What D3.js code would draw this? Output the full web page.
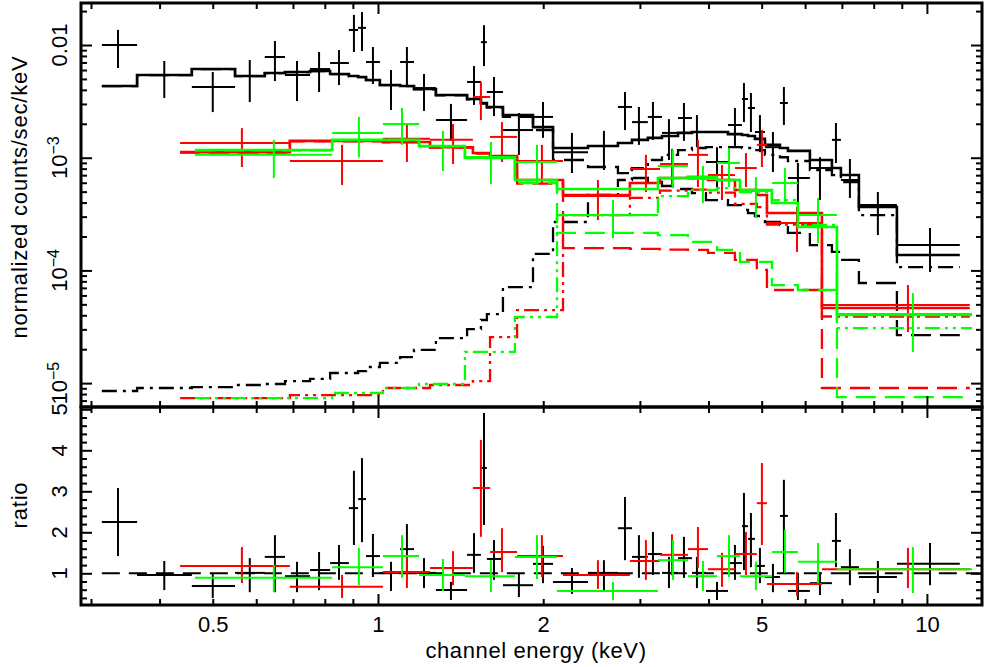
<!DOCTYPE html>
<meta charset="utf-8">
<head>
    <title>Spectrum and ratio</title>
    <style>
        body { margin: 0; background: #ffffff; }
        svg text { font-family: "Liberation Sans", Arial, sans-serif; fill: #000; }
        .tick line { stroke: #000; stroke-width: 2px; }
    </style>
</head>
<body>
<svg id="chart" width="985" height="667"></svg>
<script src="https://d3js.org/d3.v7.min.js"></script>
<script>
    // ---- data (keV, counts/sec/keV, ratio) ----
    // black set
    var blackEdges = [0.314, 0.364, 0.458, 0.549, 0.622, 0.677, 0.752, 0.818, 0.885, 0.920, 0.951, 1.008, 1.097, 1.163,
        1.275, 1.453, 1.540, 1.579, 1.689, 1.916, 2.084, 2.413, 2.736, 2.902, 3.102, 3.291, 3.520, 3.732, 3.958, 4.341,
        4.603, 4.721, 4.861, 5.069, 5.398, 5.582, 6.121, 6.714, 6.972, 7.518, 8.818, 11.48];
    var blackCenter = [0.336, 0.408, 0.500, 0.584, 0.649, 0.712, 0.781, 0.849, 0.904, 0.935, 0.979, 1.056, 1.129, 1.213,
        1.358, 1.496, 1.560, 1.627, 1.806, 1.998, 2.256, 2.580, 2.818, 2.988, 3.169, 3.389, 3.609, 3.811, 4.146, 4.470,
        4.642, 4.780, 4.964, 5.242, 5.489, 5.821, 6.385, 6.828, 7.240, 8.141, 10.13];
    var blackRate = [1.00e-2, 5.42e-3, 4.24e-3, 5.31e-3, 7.83e-3, 5.42e-3, 6.12e-3, 6.92e-3, 1.36e-2, 1.42e-2, 7.07e-3,
        4.42e-3, 7.07e-3, 4.15e-3, 2.16e-3, 4.70e-3, 1.06e-2, 3.83e-3, 1.76e-3, 2.30e-3, 1.12e-3, 1.27e-3, 2.82e-3,
        2.07e-3, 2.30e-3, 1.66e-3, 2.25e-3, 1.69e-3, 9.16e-4, 1.95e-3, 3.32e-3, 2.76e-3, 1.69e-3, 1.24e-3, 3.06e-3,
        6.61e-4, 8.10e-4, 1.44e-3, 6.34e-4, 3.80e-4, 1.68e-4];
    var blackRateHi = [1.36e-2, 7.21e-3, 5.76e-3, 7.36e-3, 1.085e-2, 7.21e-3, 8.67e-3, 9.03e-3, 1.85e-2, 1.96e-2, 9.60e-3,
        6.00e-3, 9.60e-3, 5.53e-3, 3.00e-3, 6.51e-3, 1.50e-2, 5.20e-3, 2.49e-3, 3.12e-3, 1.66e-3, 1.73e-3, 3.83e-3,
        2.82e-3, 3.12e-3, 2.20e-3, 3.06e-3, 2.39e-3, 1.24e-3, 2.76e-3, 4.60e-3, 3.75e-3, 2.39e-3, 1.69e-3, 4.24e-3,
        8.97e-4, 1.01e-3, 2.03e-3, 9.74e-4, 4.96e-4, 2.38e-4];
    var blackRateLo = [6.25e-3, 3.39e-3, 2.54e-3, 3.12e-3, 4.79e-3, 3.18e-3, 3.83e-3, 4.42e-3, 8.67e-3, 8.85e-3, 4.51e-3,
        2.65e-3, 4.42e-3, 2.60e-3, 1.41e-3, 2.94e-3, 6.51e-3, 2.34e-3, 1.06e-3, 1.50e-3, 7.31e-4, 7.78e-4, 1.76e-3,
        1.30e-3, 1.44e-3, 9.54e-4, 1.41e-3, 1.24e-3, 5.50e-4, 1.24e-3, 2.07e-3, 1.69e-3, 1.12e-3, 7.46e-4, 1.95e-3,
        3.96e-4, 4.21e-4, 8.97e-4, 4.39e-4, 2.06e-4, 9.68e-5];
    var blackModel = [4.33e-3, 5.42e-3, 6.12e-3, 5.31e-3, 5.64e-3, 5.76e-3, 5.88e-3, 5.53e-3, 5.31e-3, 5.20e-3, 4.89e-3,
        4.42e-3, 4.33e-3, 4.07e-3, 3.60e-3, 3.32e-3, 3.06e-3, 2.82e-3, 2.39e-3, 1.87e-3, 1.22e-3, 1.27e-3, 1.35e-3,
        1.44e-3, 1.50e-3, 1.56e-3, 1.66e-3, 1.69e-3, 1.69e-3, 1.62e-3, 1.59e-3, 1.56e-3, 1.47e-3, 1.30e-3, 1.22e-3,
        1.15e-3, 9.54e-4, 8.10e-4, 7.02e-4, 3.65e-4, 1.37e-4];
    var blackSoft = [4.32e-3, 5.41e-3, 6.11e-3, 5.30e-3, 5.63e-3, 5.75e-3, 5.87e-3, 5.52e-3, 5.30e-3, 5.19e-3, 4.88e-3,
        4.40e-3, 4.31e-3, 4.05e-3, 3.57e-3, 3.29e-3, 3.02e-3, 2.78e-3, 2.30e-3, 1.76e-3, 9.54e-4, 8.27e-4, 7.31e-4,
        6.61e-4, 6.09e-4, 5.61e-4, 5.28e-4, 4.86e-4, 4.21e-4, 3.80e-4, 3.44e-4, 3.23e-4, 3.04e-4, 2.69e-4, 2.53e-4,
        2.15e-4, 1.68e-4, 1.46e-4, 1.24e-4, 7.73e-5, 2.67e-5];
    var blackHard = [8.51e-6, 9.05e-6, 9.23e-6, 9.62e-6, 9.82e-6, 1.04e-5, 1.09e-5, 1.23e-5, 1.23e-5, 1.28e-5, 1.39e-5,
        1.51e-5, 1.70e-5, 1.97e-5, 2.51e-5, 3.02e-5, 3.63e-5, 4.10e-5, 7.12e-5, 1.40e-4, 2.69e-4, 4.67e-4, 6.34e-4,
        8.10e-4, 9.54e-4, 1.06e-3, 1.17e-3, 1.22e-3, 1.24e-3, 1.24e-3, 1.22e-3, 1.22e-3, 1.17e-3, 1.06e-3, 1.01e-3,
        9.35e-4, 7.78e-4, 7.02e-4, 6.09e-4, 3.10e-4, 1.07e-4];
    var blackRatio = [2.25, 0.96, 0.69, 1.01, 1.40, 0.93, 1.08, 1.25, 2.59, 2.81, 1.42, 1.01, 1.59, 1.01, 0.59, 1.45,
        3.57, 1.35, 0.71, 1.23, 0.79, 1.01, 2.10, 1.40, 1.47, 1.01, 1.37, 1.01, 0.57, 1.25, 2.15, 1.84, 1.18, 0.91,
        2.40, 0.57, 0.76, 1.79, 1.15, 0.91, 1.23];
    var blackRatioHi = [3.08, 1.30, 1.01, 1.37, 1.93, 1.28, 1.52, 1.69, 3.50, 3.81, 1.96, 1.28, 2.20, 1.37, 0.79, 1.98,
        4.91, 1.81, 1.01, 1.67, 1.13, 1.32, 2.86, 1.93, 2.01, 1.40, 1.89, 1.40, 0.79, 1.69, 2.96, 2.47, 1.62, 1.23,
        3.28, 1.01, 1.03, 2.47, 1.59, 1.30, 1.74];
    var blackRatioLo = [1.42, 0.59, 0.40, 0.54, 0.54, 0.54, 0.59, 0.84, 1.69, 1.76, 0.91, 0.57, 0.96, 0.64, 0.35, 1.01,
        2.18, 0.84, 0.42, 0.76, 0.50, 0.59, 1.32, 0.89, 0.96, 0.64, 0.89, 0.64, 0.35, 0.84, 1.08, 1.15, 0.76, 0.54,
        1.01, 0.35, 0.47, 1.15, 0.71, 0.52, 0.71];

    // red set
    var redEdges = [0.436, 0.691, 1.021, 1.244, 1.489, 1.600, 1.792, 2.173, 2.877, 3.264, 3.670, 3.992, 4.470, 4.900,
        5.112, 6.438, 11.97];
    var redCenter = [0.565, 0.860, 1.129, 1.370, 1.540, 1.682, 1.989, 2.516, 3.077, 3.432, 3.827, 4.233, 4.681, 5.005,
        5.799, 9.235];
    var redRate = [1.35e-3, 9.35e-4, 1.47e-3, 1.44e-3, 3.46e-3, 1.53e-3, 9.35e-4, 4.57e-4, 7.94e-4, 8.8e-4, 1.06e-3,
        7.02e-4, 8.10e-4, 1.30e-3, 2.63e-4, 4.93e-5];
    var redRateHi = [1.83e-3, 1.30e-3, 1.95e-3, 1.99e-3, 4.70e-3, 2.07e-3, 1.30e-3, 6.34e-4, 1.06e-3, 1.2e-3, 1.44e-3,
        8.61e-4, 1.10e-3, 1.76e-3, 3.65e-4, 7.42e-5];
    var redRateLo = [8.27e-4, 5.73e-4, 9.16e-4, 8.79e-4, 2.16e-3, 9.16e-4, 5.96e-4, 2.80e-4, 4.96e-4, 5.6e-4, 5.50e-4,
        4.21e-4, 5.50e-4, 8.27e-4, 1.46e-4, 2.84e-5];
    var redModel = [1.12e-3, 1.41e-3, 1.38e-3, 1.24e-3, 1.10e-3, 1.035e-3, 6.34e-4, 4.67e-4, 5.96e-4, 6.61e-4, 6.74e-4,
        6.34e-4, 5.17e-4, 4.67e-4, 3.23e-4, 4.64e-5];
    var redSoft = [1.11e-3, 1.40e-3, 1.37e-3, 1.23e-3, 1.09e-3, 1.01e-3, 5.9e-4, 1.58e-4, 1.55e-4, 1.53e-4, 1.52e-4,
        1.43e-4, 1.24e-4, 1.01e-4, 6.70e-5, 9.05e-6];
    var redHard = [7.37e-6, 7.84e-6, 9.05e-6, 9.62e-6, 1.04e-5, 2.56e-5, 4.45e-5, 3.1e-4, 4.4e-4, 5.1e-4, 5.2e-4,
        4.9e-4, 3.9e-4, 3.65e-4, 2.55e-4, 3.9e-5];
    var redRatio = [1.18, 0.67, 1.03, 1.13, 3.08, 1.52, 1.42, 0.96, 1.30, 1.45, 1.59, 1.10, 1.47, 2.71, 0.74, 1.10];
    var redRatioHi = [1.64, 0.96, 1.45, 1.54, 4.25, 2.10, 1.93, 1.32, 1.81, 1.95, 2.13, 1.50, 2.01, 3.69, 1.03, 1.62];
    var redRatioLo = [0.76, 0.40, 0.64, 0.71, 1.89, 1.03, 0.91, 0.62, 0.84, 0.95, 1.13, 0.67, 0.96, 1.69, 0.45, 0.64];

    // green set
    var greenEdges = [0.464, 0.825, 1.021, 1.188, 1.440, 1.776, 2.119, 3.236, 3.670, 4.146, 4.564, 5.220, 5.821, 6.857,
        12.08];
    var greenCenter = [0.646, 0.923, 1.106, 1.313, 1.606, 1.948, 2.680, 3.446, 3.908, 4.359, 4.880, 5.512, 6.332, 9.430];
    var greenRate = [1.06e-3, 1.66e-3, 1.99e-3, 1.27e-3, 9.94e-4, 9.16e-4, 3.10e-4, 8.44e-4, 6.47e-4, 8.97e-4, 5.07e-4,
        5.96e-4, 3.10e-4, 4.10e-5];
    var greenRateHi = [1.44e-3, 2.30e-3, 2.76e-3, 1.73e-3, 1.38e-3, 1.30e-3, 4.21e-4, 1.17e-3, 8.44e-4, 1.22e-3, 6.74e-4,
        8.10e-4, 4.39e-4, 6.30e-5];
    var greenRateLo = [6.61e-4, 1.01e-3, 1.30e-3, 7.62e-4, 5.84e-4, 5.73e-4, 1.94e-4, 5.38e-4, 3.96e-4, 5.50e-4, 2.92e-4,
        3.96e-4, 1.75e-4, 1.89e-5];
    var greenModel = [1.17e-3, 1.44e-3, 1.44e-3, 1.27e-3, 1.01e-3, 6.34e-4, 5.28e-4, 6.61e-4, 6.74e-4, 6.34e-4, 5.17e-4,
        3.96e-4, 2.43e-4, 4.02e-5];
    var greenSoft = [1.16e-3, 1.43e-3, 1.43e-3, 1.26e-3, 9.9e-4, 5.95e-4, 2.15e-4, 2.06e-4, 1.79e-4, 1.52e-4, 1.19e-4,
        7.42e-5, 6.70e-5, 7.52e-6];
    var greenHard = [7.37e-6, 8.17e-6, 9.05e-6, 9.82e-6, 1.89e-5, 3.86e-5, 3.10e-4, 4.57e-4, 5.17e-4, 5.38e-4, 4.96e-4,
        4.21e-4, 2.53e-4, 3.08e-5];
    var greenRatio = [0.89, 1.15, 1.42, 0.96, 0.93, 1.40, 0.57, 1.32, 0.93, 1.42, 0.93, 1.52, 1.28, 1.10];
    var greenRatioHi = [1.20, 1.62, 1.93, 1.35, 1.32, 1.93, 0.79, 1.81, 1.30, 1.93, 1.28, 2.06, 1.74, 1.64];
    var greenRatioLo = [0.54, 0.71, 0.89, 0.57, 0.54, 0.86, 0.35, 0.84, 0.57, 0.91, 0.59, 1.01, 0.76, 0.52];

    // axis ticks
    var xLabels = [0.5, 1, 2, 5, 10];
    var xMajor = [1, 10];
    var xMinor = [0.3, 0.4, 0.5, 0.6, 0.7, 0.8, 0.9, 2, 3, 4, 5, 6, 7, 8, 9];
    var yLabels = [0.01, 1e-3, 1e-4, 1e-5];
    var yMajor = [1e-5, 1e-4, 1e-3, 1e-2];
    var yMinor = [7e-6, 8e-6, 9e-6, 2e-5, 3e-5, 4e-5, 5e-5, 6e-5, 7e-5, 8e-5, 9e-5, 2e-4, 3e-4, 4e-4, 5e-4, 6e-4, 7e-4,
        8e-4, 9e-4, 2e-3, 3e-3, 4e-3, 5e-3, 6e-3, 7e-3, 8e-3, 9e-3, 2e-2];
    var rLabels = [1, 2, 3, 4, 5];
    var rMinor = [0.4, 0.6, 0.8, 1.2, 1.4, 1.6, 1.8, 2.2, 2.4, 2.6, 2.8, 3.2, 3.4, 3.6, 3.8, 4.2, 4.4, 4.6, 4.8];

    // ---- layout ----
    var pL = 81, pR = 982, pT = 3, pM = 407, pB = 605;
    var svg = d3.select("#chart");

    var x = d3.scaleLog().domain([0.2877, 12.6]).range([pL, pR]);
    var y = d3.scaleLog().domain([6.14e-6, 0.02359]).range([pM, pT]);
    var yr = d3.scaleLinear().domain([0.227, 5.056]).range([pB, pM]);

    var defs = svg.append("defs");
    defs.append("clipPath").attr("id", "clipTop").append("rect")
        .attr("x", pL).attr("y", pT).attr("width", pR - pL).attr("height", pM - pT);
    defs.append("clipPath").attr("id", "clipRat").append("rect")
        .attr("x", pL).attr("y", pM).attr("width", pR - pL).attr("height", pB - pM);

    var sets = [
        {color: "#000000", edges: blackEdges, center: blackCenter, rate: blackRate, hi: blackRateHi, lo: blackRateLo,
            model: blackModel, soft: blackSoft, hard: blackHard, ratio: blackRatio, rhi: blackRatioHi, rlo: blackRatioLo,
            hardDash: "15,6,3,6"},
        {color: "#ff0000", edges: redEdges, center: redCenter, rate: redRate, hi: redRateHi, lo: redRateLo,
            model: redModel, soft: redSoft, hard: redHard, ratio: redRatio, rhi: redRatioHi, rlo: redRatioLo,
            hardDash: "15,5,3,5,3,5"},
        {color: "#00ff00", edges: greenEdges, center: greenCenter, rate: greenRate, hi: greenRateHi, lo: greenRateLo,
            model: greenModel, soft: greenSoft, hard: greenHard, ratio: greenRatio, rhi: greenRatioHi, rlo: greenRatioLo,
            hardDash: "15,5,3,5,3,5"}
    ];

    function steps(edges, vals) {
        var pts = [];
        vals.forEach(function (v, i) {
            pts.push([edges[i], v], [edges[i + 1], v]);
        });
        return pts;
    }
    var stepLine = d3.line().x(function (d) { return x(d[0]); }).y(function (d) { return y(d[1]); });

    var gTop = svg.append("g").attr("clip-path", "url(#clipTop)");
    var gRat = svg.append("g").attr("clip-path", "url(#clipRat)");

    // ratio = 1 reference line
    gRat.append("line")
        .attr("x1", x(blackEdges[0])).attr("x2", x(12.6))
        .attr("y1", yr(1)).attr("y2", yr(1))
        .attr("stroke", "#000").attr("stroke-width", 2).attr("stroke-dasharray", "18,9");

    sets.forEach(function (s) {
        var idx = d3.range(s.rate.length);

        // data crosses, top panel
        var c = gTop.append("g").attr("stroke", s.color).attr("stroke-width", 2);
        c.selectAll(".h").data(idx).enter().append("line")
            .attr("x1", function (i) { return x(s.edges[i]); })
            .attr("x2", function (i) { return x(s.edges[i + 1]); })
            .attr("y1", function (i) { return y(s.rate[i]); })
            .attr("y2", function (i) { return y(s.rate[i]); });
        c.selectAll(".v").data(idx).enter().append("line")
            .attr("x1", function (i) { return x(s.center[i]); })
            .attr("x2", function (i) { return x(s.center[i]); })
            .attr("y1", function (i) { return y(s.hi[i]); })
            .attr("y2", function (i) { return y(s.lo[i]); });

        // model and components
        gTop.append("path").attr("d", stepLine(steps(s.edges, s.model)))
            .attr("fill", "none").attr("stroke", s.color).attr("stroke-width", 2.6);
        gTop.append("path").attr("d", stepLine(steps(s.edges, s.soft)))
            .attr("fill", "none").attr("stroke", s.color).attr("stroke-width", 2.3)
            .attr("stroke-dasharray", "20,9");
        gTop.append("path").attr("d", stepLine(steps(s.edges, s.hard)))
            .attr("fill", "none").attr("stroke", s.color).attr("stroke-width", 2.3)
            .attr("stroke-dasharray", s.hardDash);

        // ratio crosses
        var r = gRat.append("g").attr("stroke", s.color).attr("stroke-width", 2);
        r.selectAll(".h").data(idx).enter().append("line")
            .attr("x1", function (i) { return x(s.edges[i]); })
            .attr("x2", function (i) { return x(s.edges[i + 1]); })
            .attr("y1", function (i) { return yr(s.ratio[i]); })
            .attr("y2", function (i) { return yr(s.ratio[i]); });
        r.selectAll(".v").data(idx).enter().append("line")
            .attr("x1", function (i) { return x(s.center[i]); })
            .attr("x2", function (i) { return x(s.center[i]); })
            .attr("y1", function (i) { return yr(s.rhi[i]); })
            .attr("y2", function (i) { return yr(s.rlo[i]); });
    });

    // ---- axes: inward ticks on every side ----
    function tickAxis(axis, scale, values, size, tx, ty) {
        var g = svg.append("g").attr("transform", "translate(" + tx + "," + ty + ")")
            .call(axis(scale).tickValues(values).tickSize(-size).tickFormat(""));
        g.select(".domain").remove();
    }
    [[d3.axisTop, pT], [d3.axisBottom, pM], [d3.axisTop, pM], [d3.axisBottom, pB]].forEach(function (a) {
        tickAxis(a[0], x, xMinor, 6, 0, a[1]);
        tickAxis(a[0], x, xMajor, 11, 0, a[1]);
    });
    [[d3.axisLeft, pL], [d3.axisRight, pR]].forEach(function (a) {
        tickAxis(a[0], y, yMinor, 6, a[1], 0);
        tickAxis(a[0], y, yMajor, 11, a[1], 0);
        tickAxis(a[0], yr, rMinor, 6, a[1], 0);
        tickAxis(a[0], yr, rLabels, 11, a[1], 0);
    });

    // frames
    svg.append("rect").attr("x", pL).attr("y", pT).attr("width", pR - pL).attr("height", pM - pT)
        .attr("fill", "none").attr("stroke", "#000").attr("stroke-width", 3);
    svg.append("rect").attr("x", pL).attr("y", pM).attr("width", pR - pL).attr("height", pB - pM)
        .attr("fill", "none").attr("stroke", "#000").attr("stroke-width", 3);

    // x labels
    var xl = svg.append("g").attr("transform", "translate(0," + pB + ")")
        .call(d3.axisBottom(x).tickValues(xLabels).tickSize(0).tickPadding(11)
            .tickFormat(function (d) { return String(d); }));
    xl.select(".domain").remove();
    xl.selectAll("text").attr("font-size", 22).attr("font-family", "Liberation Sans, Arial, sans-serif");

    // y labels (rotated)
    yLabels.forEach(function (v) {
        var t = svg.append("text").attr("x", 67).attr("y", y(v))
            .attr("transform", "rotate(-90," + 67 + "," + y(v) + ")")
            .attr("text-anchor", "middle").attr("font-size", 22);
        if (v === 0.01) {
            t.text("0.01");
        } else {
            t.append("tspan").text("10");
            t.append("tspan").attr("dy", -8).attr("font-size", 16)
                .text("\u2212" + Math.round(-Math.log10(v)));
        }
    });
    rLabels.forEach(function (v) {
        svg.append("text").attr("x", 67).attr("y", yr(v))
            .attr("transform", "rotate(-90," + 67 + "," + yr(v) + ")")
            .attr("text-anchor", "middle").attr("font-size", 22).text(v);
    });

    // titles
    svg.append("text").attr("x", 536).attr("y", 658)
        .attr("text-anchor", "middle").attr("font-size", 22).attr("letter-spacing", 0.6)
        .text("channel energy (keV)");
    svg.append("text").attr("x", 27).attr("y", 197)
        .attr("transform", "rotate(-90,27,197)")
        .attr("text-anchor", "middle").attr("font-size", 22).attr("letter-spacing", 0.8)
        .text("normalized counts/sec/keV");
    svg.append("text").attr("x", 27).attr("y", 505)
        .attr("transform", "rotate(-90,27,505)")
        .attr("text-anchor", "middle").attr("font-size", 22).attr("letter-spacing", 0.8)
        .text("ratio");
</script>
</body>
